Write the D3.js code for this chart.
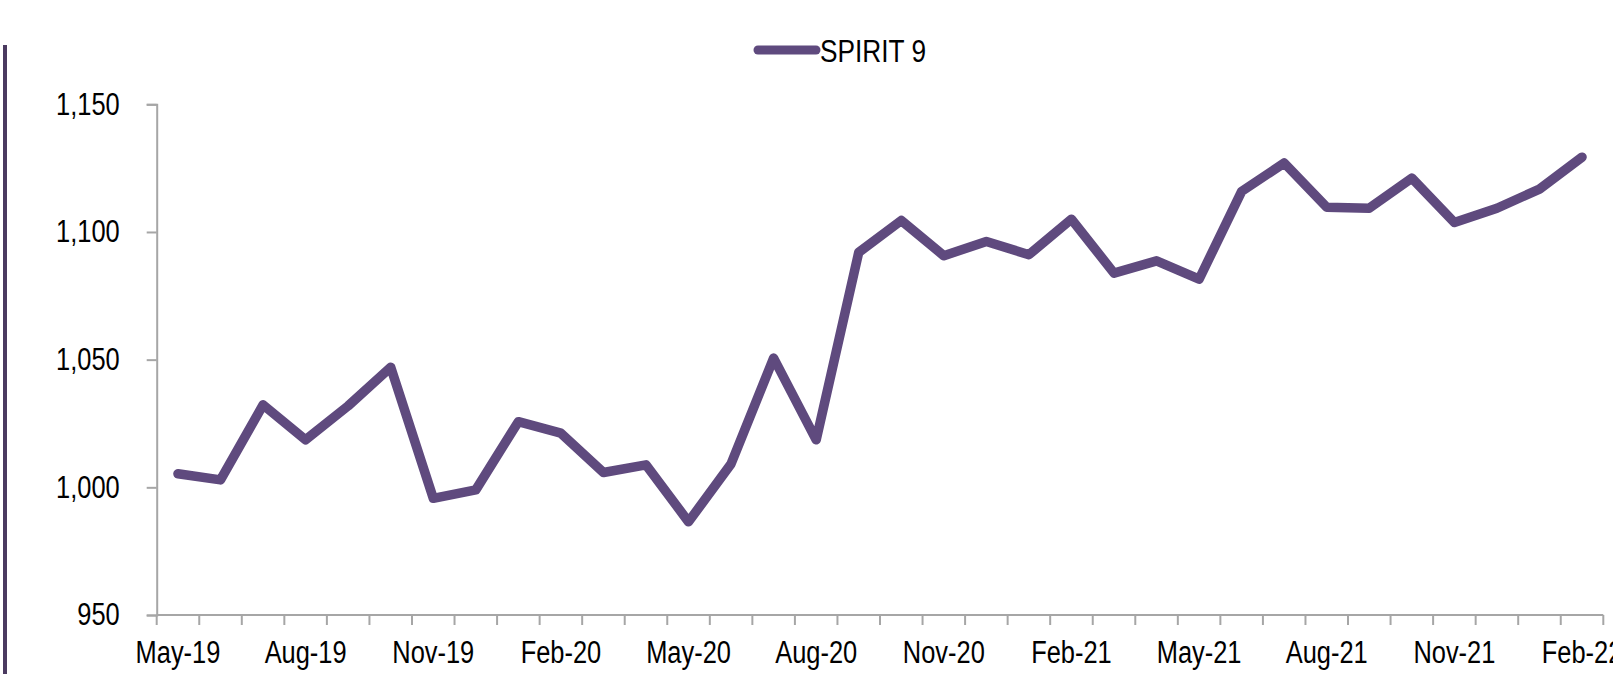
<!DOCTYPE html>
<html lang="en">
<head>
    <meta charset="UTF-8">
    <title>SPIRIT 9</title>
    <script src="https://d3js.org/d3.v7.min.js"></script>
    <style>
        html, body { margin: 0; padding: 0; background: #fff; }
        svg { display: block; }
        text { font-family: "Liberation Sans", Arial, sans-serif; fill: #000; }
    </style>
</head>
<body>
    <div id="chart"></div>
    <script>
        // Data
        const months = ["May-19", "Jun-19", "Jul-19", "Aug-19", "Sep-19", "Oct-19", "Nov-19", "Dec-19",
            "Jan-20", "Feb-20", "Mar-20", "Apr-20", "May-20", "Jun-20", "Jul-20", "Aug-20", "Sep-20", "Oct-20", "Nov-20", "Dec-20",
            "Jan-21", "Feb-21", "Mar-21", "Apr-21", "May-21", "Jun-21", "Jul-21", "Aug-21", "Sep-21", "Oct-21", "Nov-21", "Dec-21",
            "Jan-22", "Feb-22"];
        const spirit9 = [1005.3, 1002.9, 1032.3, 1018.6, 1031.9, 1047.0, 995.7, 999.0,
            1025.7, 1021.2, 1005.8, 1008.8, 986.5, 1009.2, 1050.6, 1018.6, 1092.0, 1104.5, 1090.7, 1096.3,
            1091.1, 1105.0, 1083.9, 1088.7, 1081.5, 1115.9, 1127.0, 1109.7, 1109.3, 1121.1, 1103.7, 1109.3,
            1116.8, 1129.3];
        const yTicks = [950, 1000, 1050, 1100, 1150];
        const seriesName = "SPIRIT 9";

        const width = 1613, height = 674;
        const margin = { top: 104.3, right: 9.7, bottom: 59, left: 156.7 };
        const lineColor = "#5f4a7e";
        const axisColor = "#a6a6a6";

        const svg = d3.select("#chart")
            .append("svg")
            .attr("width", width)
            .attr("height", height);

        // squeeze text horizontally to mimic a narrow font
        function narrow(sel) {
            sel.each(function() {
                const w = this.getComputedTextLength();
                d3.select(this)
                    .attr("textLength", w * 0.82)
                    .attr("lengthAdjust", "spacingAndGlyphs");
            });
        }

        // thin purple bar on the left edge
        svg.append("rect")
            .attr("x", 3)
            .attr("y", 45)
            .attr("width", 4)
            .attr("height", height - 45)
            .attr("fill", "#4b3a60");

        const xScale = d3.scaleBand()
            .domain(months)
            .range([margin.left, width - margin.right]);

        const yScale = d3.scaleLinear()
            .domain([950, 1150])
            .range([height - margin.bottom, margin.top]);

        const y0 = yScale(950);

        // y axis
        const yAxis = d3.axisLeft(yScale)
            .tickValues(yTicks)
            .tickFormat(d3.format(","))
            .tickSize(10)
            .tickPadding(27);

        const gy = svg.append("g")
            .attr("transform", "translate(" + margin.left + ",0)")
            .call(yAxis);
        gy.select(".domain").attr("stroke", axisColor).attr("stroke-width", 2);
        gy.selectAll(".tick line").attr("stroke", axisColor).attr("stroke-width", 2);
        gy.selectAll(".tick text")
            .attr("font-family", null)
            .style("font-size", "31px")
            .attr("fill", "#000")
            .call(narrow);

        // x axis: line, boundary ticks, labels every 3 months
        svg.append("line")
            .attr("x1", margin.left)
            .attr("x2", width - margin.right)
            .attr("y1", y0)
            .attr("y2", y0)
            .attr("stroke", axisColor)
            .attr("stroke-width", 2);

        const edges = months.map(m => xScale(m)).concat([xScale(months[months.length - 1]) + xScale.bandwidth()]);
        svg.selectAll(".xtick")
            .data(edges)
            .enter()
            .append("line")
            .attr("class", "xtick")
            .attr("x1", d => d)
            .attr("x2", d => d)
            .attr("y1", y0)
            .attr("y2", y0 + 10)
            .attr("stroke", axisColor)
            .attr("stroke-width", 2);

        const xAxis = d3.axisBottom(xScale)
            .tickValues(months.filter((m, i) => i % 3 === 0))
            .tickSize(0)
            .tickPadding(0);

        const gx = svg.append("g")
            .attr("transform", "translate(0," + y0 + ")")
            .call(xAxis);
        gx.select(".domain").remove();
        gx.selectAll(".tick text")
            .attr("font-family", null)
            .attr("y", 48)
            .attr("dy", 0)
            .style("font-size", "31px")
            .attr("fill", "#000")
            .call(narrow);

        // the series line
        const line = d3.line()
            .x((d, i) => xScale(months[i]) + xScale.bandwidth() / 2)
            .y(d => yScale(d));

        svg.append("path")
            .datum(spirit9)
            .attr("d", line)
            .attr("fill", "none")
            .attr("stroke", lineColor)
            .attr("stroke-width", 9.5)
            .attr("stroke-linejoin", "round")
            .attr("stroke-linecap", "round");

        // legend
        const legend = svg.append("g").attr("transform", "translate(758,50)");
        legend.append("line")
            .attr("x1", 0)
            .attr("x2", 58)
            .attr("stroke", lineColor)
            .attr("stroke-width", 9)
            .attr("stroke-linecap", "round");
        legend.append("text")
            .attr("x", 62)
            .attr("y", 12)
            .style("font-size", "32px")
            .text(seriesName)
            .call(narrow);
    </script>
</body>
</html>
